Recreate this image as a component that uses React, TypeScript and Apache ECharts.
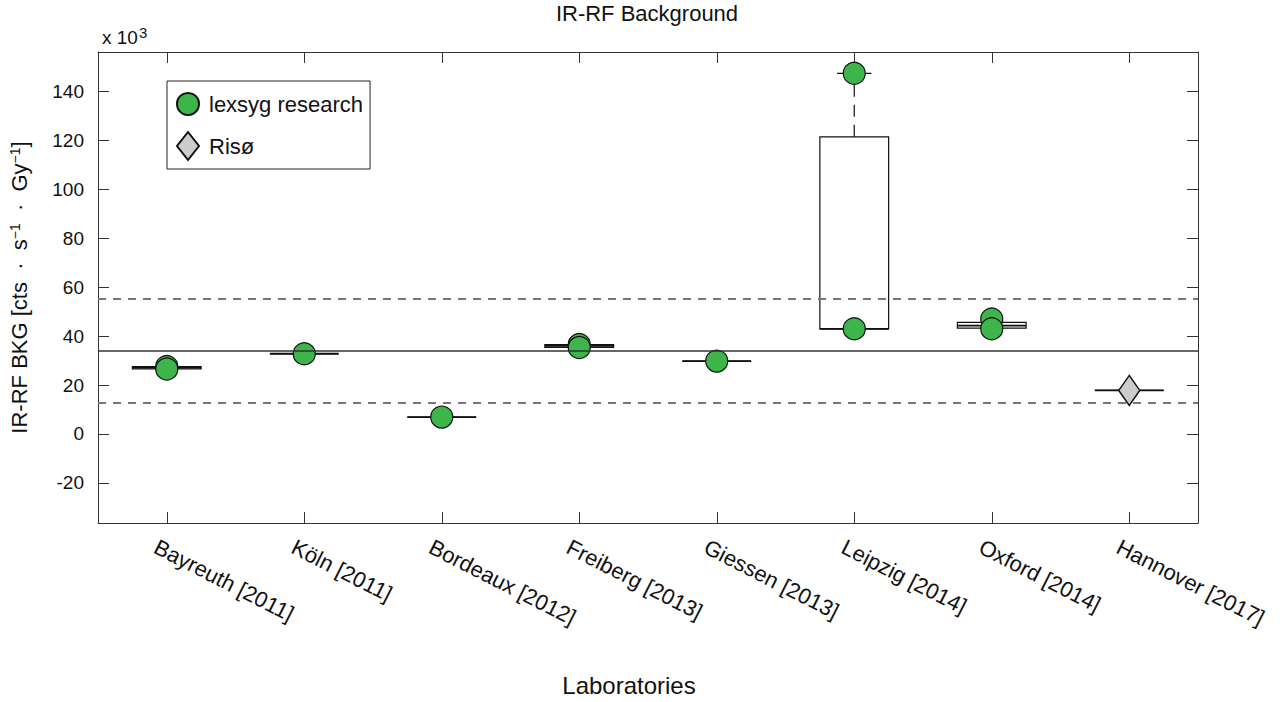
import React, { useEffect, useRef } from "react";
import * as echarts from "echarts";

const FONT = "'Liberation Sans', Arial, Helvetica, sans-serif";

const categories = [
  "Bayreuth [2011]",
  "Köln [2011]",
  "Bordeaux [2012]",
  "Freiberg [2013]",
  "Giessen [2013]",
  "Leipzig [2014]",
  "Oxford [2014]",
  "Hannover [2017]",
];

// box statistics per laboratory: [min, q1, median, q3, max] (x10^3 cts/s/Gy)
const boxStats = [
  [26.6, 26.6, 27.1, 27.6, 27.6],
  [32.8, 32.8, 32.8, 32.8, 32.8],
  [6.9, 6.9, 6.9, 6.9, 6.9],
  [35.4, 35.4, 36.0, 36.6, 36.6],
  [29.8, 29.8, 29.8, 29.8, 29.8],
  [43.0, 43.0, 43.0, 121.5, 147.5],
  [43.3, 43.3, 44.3, 45.6, 45.6],
  [17.8, 17.8, 17.8, 17.8, 17.8],
];

// individual measurements [category index, value]
const lexsygPoints = [
  [0, 27.6], [0, 26.6],
  [1, 32.8],
  [2, 6.9],
  [3, 36.6], [3, 35.4],
  [4, 29.8],
  [5, 43.0], [5, 147.5],
  [6, 47.0], [6, 43.0],
];
const risoPoints = [[7, 17.8]];

const meanValue = 34.0;
const bandUpper = 55.2;
const bandLower = 12.8;

const yTicks = [-20, 0, 20, 40, 60, 80, 100, 120, 140];
const yMin = -36.4;
const yMax = 156.2;

const AXIS_COLOR = "#333";

export default function App() {
  const ref = useRef<HTMLDivElement>(null);

  useEffect(() => {
    if (!ref.current) return;
    const chart = echarts.init(ref.current, null, { renderer: "svg" });

    const option: any = {
      animation: false,
      backgroundColor: "#fff",
      textStyle: { fontFamily: FONT },
      grid: { left: 96, right: 82, top: 52, bottom: 174 },
      graphic: [
        {
          type: "text",
          x: 647,
          y: 13,
          style: {
            text: "IR-RF Background",
            fontSize: 22,
            fontFamily: FONT,
            fill: "#111",
            textAlign: "center",
            textVerticalAlign: "middle",
          },
        },
        {
          type: "text",
          x: 102,
          y: 47,
          style: {
            text: "x 10",
            fontSize: 19,
            fontFamily: FONT,
            fill: "#111",
            textAlign: "left",
            textVerticalAlign: "bottom",
          },
        },
        {
          type: "text",
          x: 139,
          y: 40,
          style: {
            text: "3",
            fontSize: 15,
            fontFamily: FONT,
            fill: "#111",
            textAlign: "left",
            textVerticalAlign: "bottom",
          },
        },
      ],
      legend: {
        data: ["lexsyg research", "Risø"],
        orient: "vertical",
        left: 167,
        top: 81,
        padding: [11, 7, 8, 9],
        itemGap: 15,
        itemWidth: 22,
        itemHeight: 28,
        borderColor: "#222",
        borderWidth: 1,
        backgroundColor: "#fff",
        textStyle: { fontSize: 22, color: "#111", fontFamily: FONT, padding: [0, 0, 0, 5] },
      },
      xAxis: [
        {
          type: "category",
          data: categories,
          position: "bottom",
          boundaryGap: true,
          name: "Laboratories",
          nameLocation: "middle",
          nameGap: 150,
          nameTextStyle: { fontSize: 24, color: "#111", fontFamily: FONT, padding: [0, 38, 0, 0] },
          axisLine: { show: true, onZero: false, lineStyle: { color: AXIS_COLOR, width: 1 } },
          axisTick: { show: true, inside: true, length: 11, alignWithLabel: true, lineStyle: { color: AXIS_COLOR } },
          axisLabel: {
            show: true,
            interval: 0,
            rotate: -27,
            align: "left",
            verticalAlign: "top",
            margin: 16,
            padding: [0, 0, 0, -7],
            fontSize: 22,
            color: "#111",
            fontFamily: FONT,
          },
          splitLine: { show: false },
        },
        {
          type: "category",
          data: categories,
          position: "top",
          boundaryGap: true,
          axisLine: { show: true, onZero: false, lineStyle: { color: AXIS_COLOR, width: 1 } },
          axisTick: { show: true, inside: true, length: 11, alignWithLabel: true, lineStyle: { color: AXIS_COLOR } },
          axisLabel: { show: false },
          splitLine: { show: false },
        },
      ],
      yAxis: [
        {
          type: "value",
          position: "left",
          min: yMin,
          max: yMax,
          name: "IR-RF BKG [cts  ·  s{sup|−1}  ·  Gy{sup|−1}]",
          nameLocation: "middle",
          nameGap: 68,
          nameTextStyle: {
            fontSize: 22,
            color: "#111",
            fontFamily: FONT,
            rich: {
              sup: { fontSize: 14, verticalAlign: "top", color: "#111", fontFamily: FONT },
            },
          },
          axisLine: { show: true, onZero: false, lineStyle: { color: AXIS_COLOR, width: 1 } },
          axisTick: { show: true, inside: true, length: 11, customValues: yTicks, lineStyle: { color: AXIS_COLOR } },
          axisLabel: {
            show: true,
            customValues: yTicks,
            margin: 14,
            fontSize: 19,
            color: "#111",
            fontFamily: FONT,
          },
          splitLine: { show: false },
        },
        {
          type: "value",
          position: "right",
          min: yMin,
          max: yMax,
          axisLine: { show: true, onZero: false, lineStyle: { color: AXIS_COLOR, width: 1 } },
          axisTick: { show: true, inside: true, length: 11, customValues: yTicks, lineStyle: { color: AXIS_COLOR } },
          axisLabel: { show: false, customValues: yTicks },
          splitLine: { show: false },
        },
      ],
      series: [
        {
          type: "custom",
          name: "boxes",
          xAxisIndex: 0,
          yAxisIndex: 0,
          z: 2,
          silent: true,
          encode: { x: 0, y: [1, 2, 3, 4, 5] },
          data: boxStats.map((s, i) => [i, ...s]),
          renderItem: (params: any, api: any) => {
            const idx = api.value(0);
            const mn = api.value(1);
            const q1 = api.value(2);
            const md = api.value(3);
            const q3 = api.value(4);
            const mx = api.value(5);
            const band = api.size([1, 0])[0];
            const half = band * 0.25;
            const cap = band * 0.125;
            const cx = api.coord([idx, md])[0];
            const py = (v: number) => api.coord([idx, v])[1];
            const children: any[] = [];
            const yQ1 = py(q1);
            const yQ3 = py(q3);
            const yMd = py(md);
            const yMn = py(mn);
            const yMx = py(mx);
            if (mx > q3 + 1e-9) {
              children.push({
                type: "line",
                shape: { x1: cx, y1: yQ3, x2: cx, y2: yMx },
                style: { stroke: "#111", lineWidth: 1.2, lineDash: [12, 8] },
              });
              children.push({
                type: "line",
                shape: { x1: cx - cap, y1: yMx, x2: cx + cap, y2: yMx },
                style: { stroke: "#111", lineWidth: 1.2 },
              });
            }
            if (mn < q1 - 1e-9) {
              children.push({
                type: "line",
                shape: { x1: cx, y1: yQ1, x2: cx, y2: yMn },
                style: { stroke: "#111", lineWidth: 1.2, lineDash: [12, 8] },
              });
              children.push({
                type: "line",
                shape: { x1: cx - cap, y1: yMn, x2: cx + cap, y2: yMn },
                style: { stroke: "#111", lineWidth: 1.2 },
              });
            }
            children.push({
              type: "rect",
              shape: { x: cx - half, y: yQ3, width: 2 * half, height: Math.max(0, yQ1 - yQ3) },
              style: { fill: "none", stroke: "#111", lineWidth: 1.2 },
            });
            children.push({
              type: "line",
              shape: { x1: cx - half, y1: yMd, x2: cx + half, y2: yMd },
              style: { stroke: "#111", lineWidth: 1.8 },
            });
            return { type: "group", children };
          },
        },
        {
          type: "scatter",
          name: "lexsyg research",
          xAxisIndex: 0,
          yAxisIndex: 0,
          z: 3,
          symbol: "circle",
          symbolSize: 22,
          itemStyle: { color: "#3db54a", borderColor: "#111", borderWidth: 1.2, opacity: 1 },
          data: lexsygPoints,
        },
        {
          type: "scatter",
          name: "Risø",
          xAxisIndex: 0,
          yAxisIndex: 0,
          z: 3,
          symbol: "diamond",
          symbolSize: [21, 30],
          itemStyle: { color: "#cccccc", borderColor: "#111", borderWidth: 1.5, opacity: 1 },
          data: risoPoints,
        },
        {
          type: "scatter",
          name: "reference lines",
          xAxisIndex: 0,
          yAxisIndex: 0,
          z: 10,
          silent: true,
          data: [],
          markLine: {
            silent: true,
            symbol: ["none", "none"],
            label: { show: false },
            data: [
              { yAxis: meanValue, lineStyle: { color: "#333", width: 1.5, type: "solid" } },
              { yAxis: bandUpper, lineStyle: { color: "#777", width: 1.8, type: [8, 7] } },
              { yAxis: bandLower, lineStyle: { color: "#777", width: 1.8, type: [8, 7] } },
            ],
          },
        },
      ],
    };

    chart.setOption(option);
    return () => {
      chart.dispose();
    };
  }, []);

  return (
    <div
      ref={ref}
      style={{ position: "fixed", left: 0, top: 0, width: 1280, height: 702, background: "#fff" }}
    />
  );
}
